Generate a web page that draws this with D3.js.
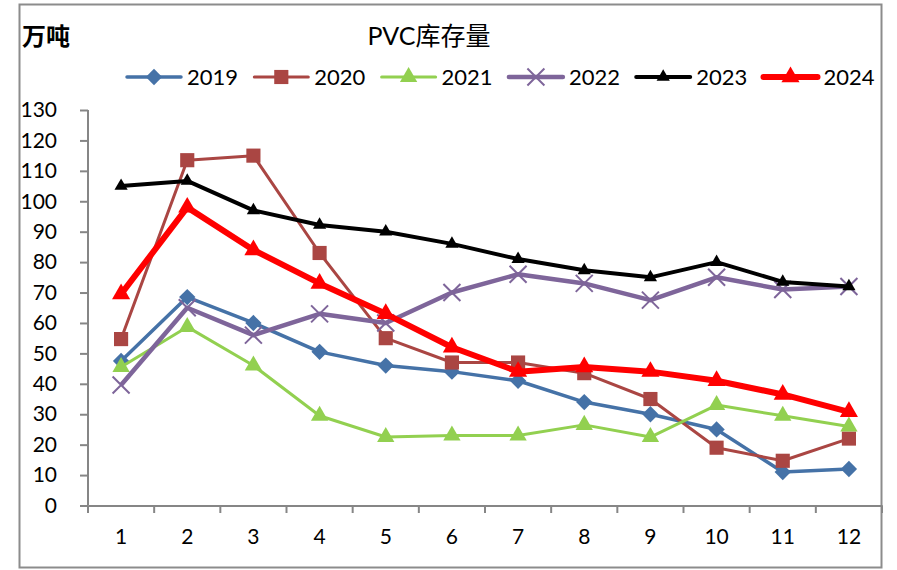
<!DOCTYPE html>
<html>
<head>
<meta charset="utf-8">
<script src="https://cdn.jsdelivr.net/npm/d3@7"></script>
<style>
    body { margin: 0; background: #fff; }
    svg { display: block; font-family: Lato, "Noto Sans CJK SC", sans-serif; }
</style>
</head>
<body>
<svg width="897" height="570"></svg>
<script>
const months = [1, 2, 3, 4, 5, 6, 7, 8, 9, 10, 11, 12]
const yTicks = [0, 10, 20, 30, 40, 50, 60, 70, 80, 90, 100, 110, 120, 130]

const v2019 = [47.5, 68.5, 60, 50.5, 46, 44, 41, 34, 30, 25, 11, 12]
const v2020 = [54.7, 113.5, 115, 83, 55, 47, 47, 43.5, 35, 19, 14.7, 22]
const v2021 = [45.5, 58.7, 46, 29.5, 22.5, 23, 23, 26.5, 22.5, 33, 29.5, 26]
const v2022 = [39.6, 65, 56, 63, 60, 70, 76, 73, 67.5, 75, 71, 72]
const v2023 = [105, 106.7, 97, 92.2, 90, 86, 81, 77.3, 75, 80, 73.5, 72]
const v2024 = [69.5, 98, 84, 73, 63, 52, 44, 45.5, 44, 41, 36.5, 30.8]

const series = [
    { name: '2019', values: v2019, color: '#4572A7', width: 3.5, marker: 'diamond', size: 170 },
    { name: '2020', values: v2020, color: '#AA4643', width: 3, marker: 'square', size: 200 },
    { name: '2021', values: v2021, color: '#92D050', width: 3, marker: 'triangle', size: 215 },
    { name: '2022', values: v2022, color: '#7E659A', width: 4.5, marker: 'cross', size: 17 },
    { name: '2023', values: v2023, color: '#000000', width: 4, marker: 'triangle', size: 125 },
    { name: '2024', values: v2024, color: '#FF0000', width: 6, marker: 'triangle', size: 235 }
]

const svg = d3.select('svg')

// chart border
svg.append('rect')
    .attr('x', 19.5).attr('y', 4.5)
    .attr('width', 862).attr('height', 563)
    .attr('fill', 'none').attr('stroke', '#8c8c8c').attr('stroke-width', 2)

const x = d3.scaleBand()
    .domain(months)
    .range([88, 882])

const y = d3.scaleLinear()
    .domain([0, 130])
    .range([505.5, 110])

const cx = d => x(d) + x.bandwidth() / 2

// y axis
svg.append('g')
    .attr('transform', 'translate(88,0)')
    .call(d3.axisLeft(y).tickValues(yTicks).tickSize(8).tickPadding(23))
    .call(g => g.selectAll('line, path').attr('stroke', '#868686').attr('stroke-width', 2))
    .call(g => g.select('.domain').attr('d', `M0,${y(130)}V${y(0)}`))
    .call(g => g.selectAll('text').attr('font-size', 21).attr('fill', '#000').attr('font-family', 'Lato'))

// x axis
svg.append('g')
    .attr('transform', 'translate(0,505.5)')
    .call(d3.axisBottom(x).tickSize(0).tickPadding(24))
    .call(g => g.select('.domain').attr('stroke', '#868686').attr('stroke-width', 2))
    .call(g => g.selectAll('text').attr('font-size', 21).attr('fill', '#000').attr('font-family', 'Lato'))

svg.append('g')
    .selectAll('line')
    .data(months.map(m => x(m)).concat([x.range()[1]]))
    .join('line')
    .attr('x1', d => d).attr('x2', d => d)
    .attr('y1', 505.5).attr('y2', 513)
    .attr('stroke', '#868686').attr('stroke-width', 2)

const symbolOf = s => {
    if (s.marker === 'diamond') return d3.symbol(d3.symbolDiamond2, s.size)
    if (s.marker === 'square') return d3.symbol(d3.symbolSquare, s.size)
    if (s.marker === 'triangle') return d3.symbol(d3.symbolTriangle2, s.size)
    return null
}

function drawMarker(g, s, px, py) {
    if (s.marker === 'cross') {
        const h = s.size / 2
        g.append('path')
            .attr('d', `M${px - h},${py - h}L${px + h},${py + h}M${px - h},${py + h}L${px + h},${py - h}`)
            .attr('stroke', s.color).attr('stroke-width', 2).attr('fill', 'none')
    } else {
        g.append('path')
            .attr('transform', `translate(${px},${py})`)
            .attr('d', symbolOf(s)())
            .attr('fill', s.color)
    }
}

const line = d3.line()
    .x((d, i) => cx(months[i]))
    .y(d => y(d))

const plot = svg.append('g')

series.forEach(s => {
    const g = plot.append('g')
    g.append('path')
        .datum(s.values)
        .attr('d', line)
        .attr('fill', 'none')
        .attr('stroke', s.color)
        .attr('stroke-width', s.width)
        .attr('stroke-linejoin', 'round')
    s.values.forEach((v, i) => drawMarker(g, s, cx(months[i]), y(v)))
})

// legend
const legend = svg.append('g')
series.forEach((s, i) => {
    const lx = 127 + i * 127.3, ly = 77
    const g = legend.append('g')
    g.append('line')
        .attr('x1', lx).attr('x2', lx + 54)
        .attr('y1', ly).attr('y2', ly)
        .attr('stroke', s.color).attr('stroke-width', s.width).attr('stroke-linecap', 'round')
    drawMarker(g, s, lx + 27, ly)
    g.append('text')
        .attr('x', lx + 60).attr('y', ly + 8)
        .attr('font-size', 22)
        .text(s.name)
})

// titles
svg.append('text')
    .attr('x', 429).attr('y', 45)
    .attr('text-anchor', 'middle')
    .attr('font-size', 25)
    .text('PVC库存量')

svg.append('text')
    .attr('x', 22).attr('y', 45)
    .attr('font-size', 24)
    .attr('font-weight', 'bold')
    .attr('font-family', '"Noto Sans CJK SC"')
    .text('万吨')
</script>
</body>
</html>
